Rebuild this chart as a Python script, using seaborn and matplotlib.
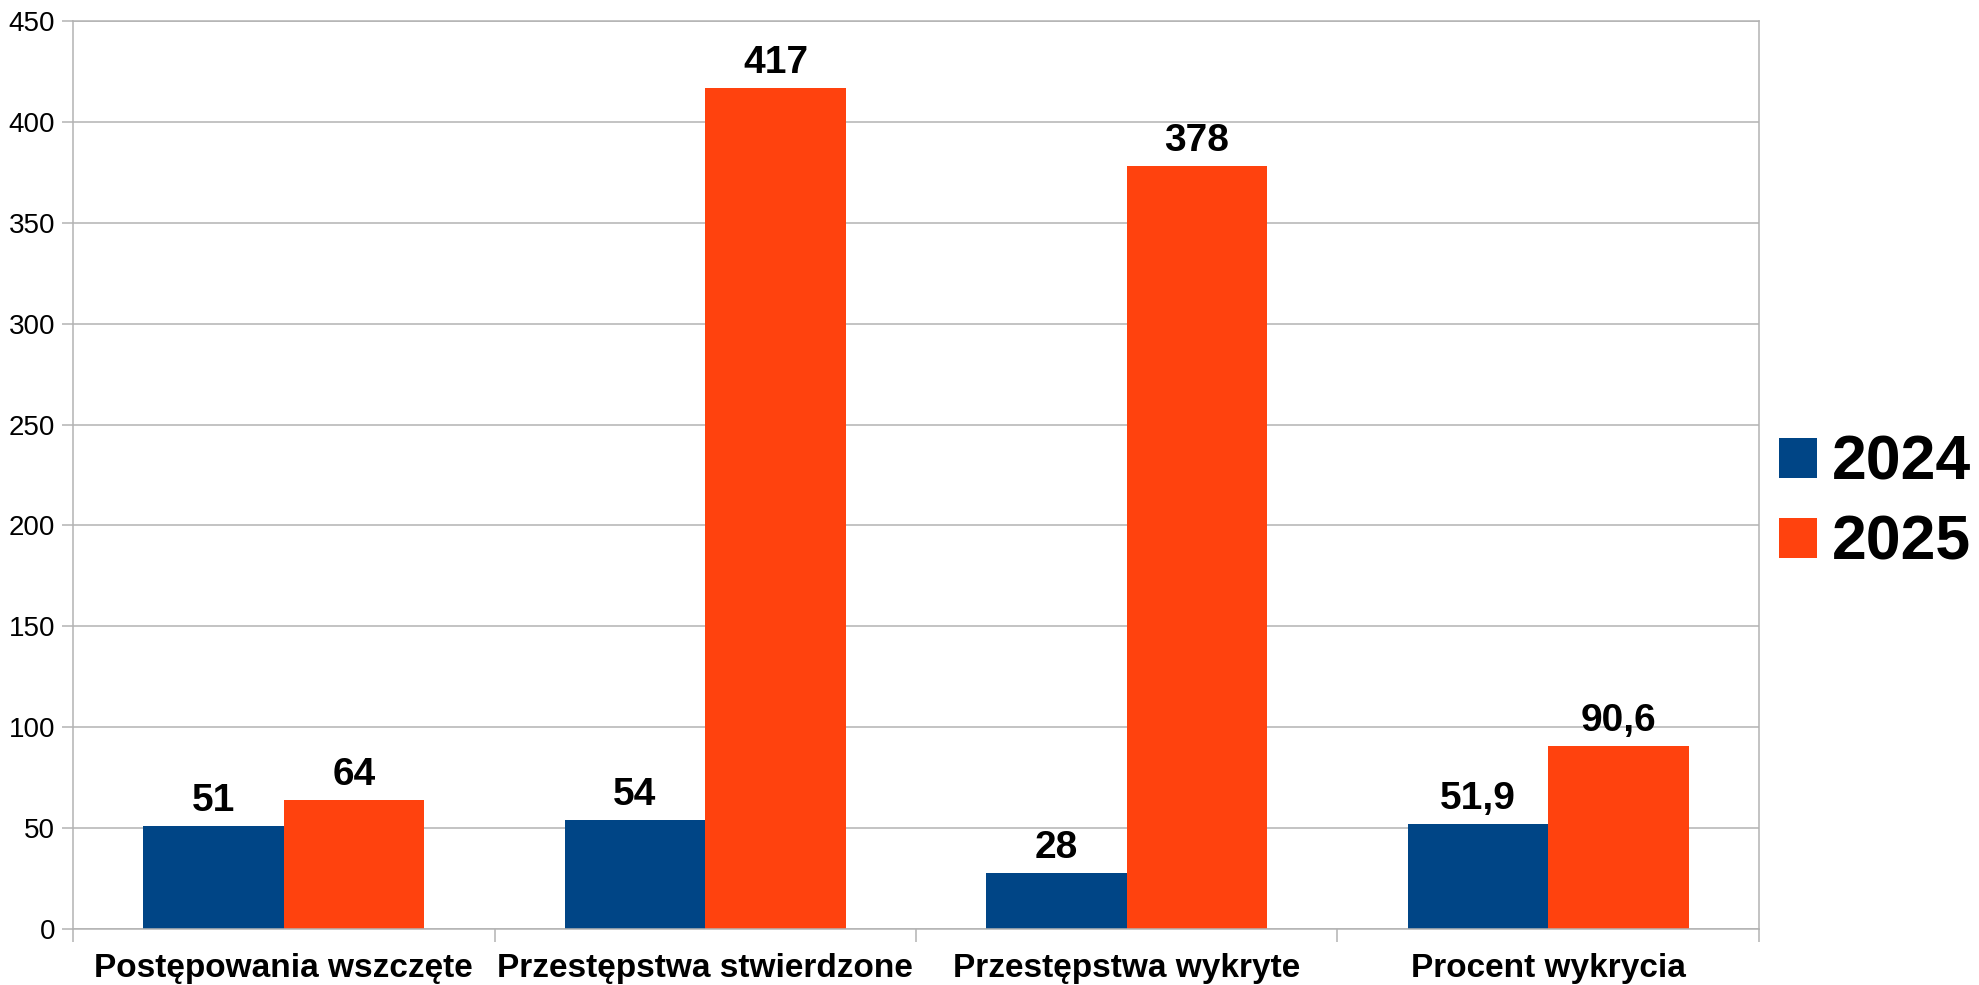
import matplotlib
matplotlib.use("Agg")
import matplotlib.pyplot as plt
import seaborn as sns
import pandas as pd
import numpy as np
from matplotlib.ticker import FixedLocator, NullFormatter

categories = ["Postępowania wszczęte", "Przestępstwa stwierdzone", "Przestępstwa wykryte", "Procent wykrycia"]
series_names = ["2024", "2025"]
values_2024 = [51, 54, 28, 51.9]
values_2025 = [64, 417, 378, 90.6]
y_ticks = [0, 50, 100, 150, 200, 250, 300, 350, 400, 450]
colors = ["#004586", "#ff420e"]

df = pd.DataFrame({
    "kategoria": categories * 2,
    "rok": [series_names[0]] * len(categories) + [series_names[1]] * len(categories),
    "wartosc": values_2024 + values_2025,
})

sns.set_theme(style="white")
plt.rcParams["font.family"] = ["Liberation Sans", "DejaVu Sans"]
plt.rcParams["text.color"] = "black"
plt.rcParams["xtick.color"] = "black"
plt.rcParams["ytick.color"] = "black"

fig = plt.figure(figsize=(19.79, 9.85), dpi=100)
ax = fig.add_axes([73/1979, 1-929/985, (1759-73)/1979, (929-21)/985])

sns.barplot(data=df, x="kategoria", y="wartosc", hue="rok", palette=colors,
            order=categories, hue_order=series_names, width=0.667,
            saturation=1, ax=ax, legend=True, errorbar=None, linewidth=0)

ax.set_ylim(0, 450)
ax.set_xlim(-0.5, len(categories) - 0.5)
ax.set_yticks(y_ticks)
ax.set_yticklabels([str(t) for t in y_ticks], fontsize=20)
ax.yaxis.grid(True, color="#b3b3b3", linewidth=1.1)
ax.set_axisbelow(True)
for s in ax.spines.values():
    s.set_color("#b3b3b3")
    s.set_linewidth(1.1)
ax.tick_params(axis="y", left=True, length=8, width=1.1, color="#b3b3b3",
               labelcolor="black", pad=5)
ax.set_xticks(range(len(categories)))
ax.set_xticklabels(categories, fontsize=24, fontweight="bold", color="black")
ax.tick_params(axis="x", which="major", bottom=True, length=0, pad=17)
ax.xaxis.set_minor_locator(FixedLocator(np.arange(-0.5, len(categories), 1.0)))
ax.xaxis.set_minor_formatter(NullFormatter())
ax.tick_params(axis="x", which="minor", bottom=True, length=9, width=1.1, color="#b3b3b3")
ax.set_xlabel("")
ax.set_ylabel("")

def fmt(v):
    s = f"{v:g}"
    return s.replace(".", ",")

for cont in ax.containers:
    ax.bar_label(cont, labels=[fmt(b.get_height()) for b in cont], padding=5,
                 fontsize=28, fontweight="bold", color="black")

handles, labels = ax.get_legend_handles_labels()
ax.get_legend().remove()
fig.legend(handles, labels, loc="center left", bbox_to_anchor=(1779/1979, 0.489),
           frameon=False, prop={"weight": "bold", "size": 45},
           handlelength=0.6, handleheight=0.6, handletextpad=0.24, labelspacing=0.34,
           borderaxespad=0, borderpad=0, labelcolor="black")

fig.savefig("out.png", dpi=100, facecolor="white")
